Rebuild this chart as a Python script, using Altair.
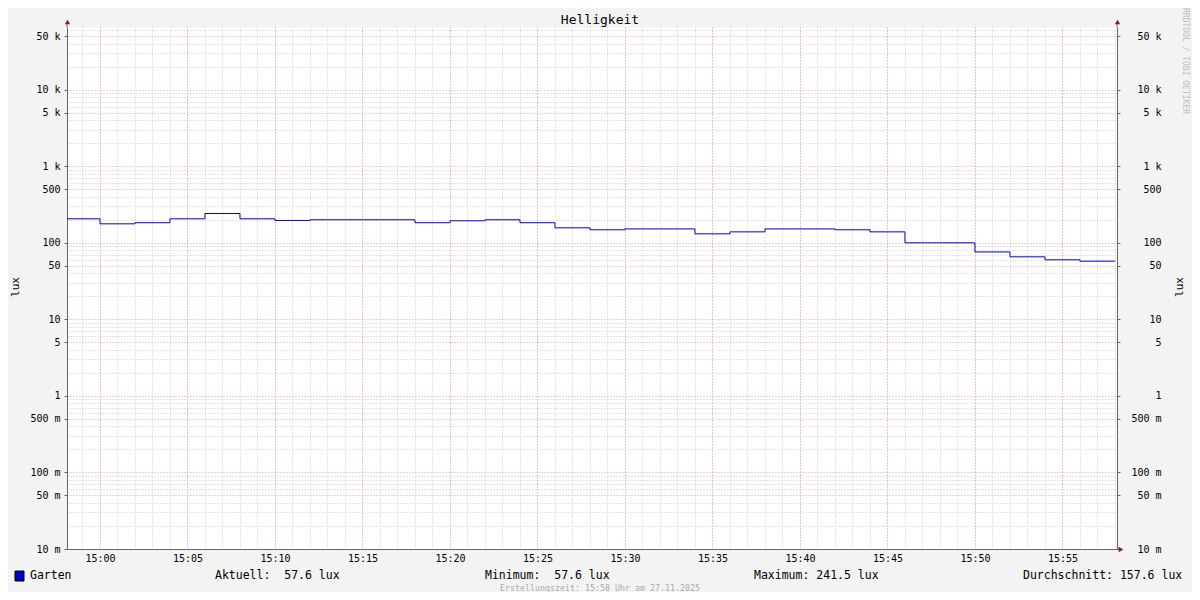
import altair as alt
import pandas as pd

NB = "\u00a0"
FONT = "DejaVu Sans Mono"

# ---------------- data ----------------
step_minutes = [-2, 0, 2, 4, 6, 8, 10, 12, 14, 16, 18, 20, 22, 24, 26, 28,
                30, 32, 34, 36, 38, 40, 42, 44, 46, 48, 50, 52, 54, 56, 58]
lux_values = [206, 177, 183, 206, 241.5, 206, 196, 200,
              200, 200, 183, 194, 200, 183, 157, 148,
              152, 152, 131, 139, 152, 152, 148, 139,
              100, 100, 76, 65.6, 60, 57.6, 57.6]

y_major_ticks = [0.01, 0.05, 0.1, 0.5, 1, 5, 10, 50, 100, 500, 1000, 5000, 10000, 50000]
decades = [0.01, 0.1, 1, 10, 100, 1000, 10000]
minor_factors = [2, 3, 4, 6, 7, 8, 9]
y_minor_ticks = [d * f for d in decades for f in minor_factors if d * f < 66000]
x_major_minutes = [0, 5, 10, 15, 20, 25, 30, 35, 40, 45, 50, 55]
x_minor_minutes = list(range(-1, 59))

series_name = "Garten"
unit = "lux"
stat_names = ["Aktuell:" + NB, "Minimum:" + NB, "Maximum:", "Durchschnitt:"]
stat_values = [57.6, 57.6, 241.5, 157.6]
title_text = "Helligkeit"
footer_text = "Erstellungszeit: 15:58 Uhr am 27.11.2025"
watermark_text = "RRDTOOL / TOBI OETIKER"


def dt(minute_from_15, seconds=0):
    m = 15 * 60 + minute_from_15
    return alt.DateTime(year=2025, month=11, date=27, hours=m // 60, minutes=m % 60,
                        seconds=seconds)


def ts(minute_from_15):
    m = 15 * 60 + minute_from_15
    return f"2025-11-27T{m // 60:02d}:{m % 60:02d}:00"


df = pd.DataFrame({"t": [ts(m) for m in step_minutes], "v": lux_values})

# ---------------- scales ----------------
xs = alt.Scale(domain=[dt(-2, 7), dt(58, 7)], nice=False)
ys = alt.Scale(type="log", domain=[0.01, 66000], nice=False)

MINOR = "#c8c8c8"
MAJOR = "#eb9c9c"
DASH = [1, 2]
AXIS_C = "#666666"
ARROW_C = "#8b1a1a"

label_expr = ("datum.value < 0.999 ? format(datum.value*1000, '.0f') + ' m' : "
              "(datum.value >= 999 ? format(datum.value/1000, '.0f') + ' k' : "
              "format(datum.value, '.0f') + '" + NB + NB + "')")

base = alt.Chart(df)

minor = base.mark_line(opacity=0).encode(
    x=alt.X("t:T", scale=xs, axis=alt.Axis(
        orient="bottom", grid=True, gridColor=MINOR, gridDash=DASH, gridWidth=1,
        values=[dt(m) for m in x_minor_minutes], labels=False, ticks=False,
        domain=False, title=None)),
    y=alt.Y("v:Q", scale=ys, axis=alt.Axis(
        orient="left", values=y_minor_ticks, grid=True, gridColor=MINOR, gridDash=DASH,
        gridWidth=1, labels=False, ticks=False, domain=False, title=None)),
)

major = base.mark_line(opacity=0).encode(
    x=alt.X("t:T", scale=xs, axis=alt.Axis(
        orient="bottom", grid=True, gridColor=MAJOR, gridDash=DASH, gridWidth=1,
        values=[dt(m) for m in x_major_minutes], format="%H:%M", ticks=False,
        labelPadding=4, labelFont=FONT, labelFontSize=10, labelColor="#000000",
        domain=True, domainColor=AXIS_C, domainWidth=1, title=None)),
    y=alt.Y("v:Q", scale=ys, axis=alt.Axis(
        orient="left", values=y_major_ticks, grid=True, gridColor=MAJOR, gridDash=DASH,
        gridWidth=1, labelExpr=label_expr, ticks=True, tickSize=3, tickColor=AXIS_C,
        labelPadding=4, labelFont=FONT, labelFontSize=10, labelColor="#000000",
        domain=True, domainColor=AXIS_C, domainWidth=1, title=None)),
)

right = base.mark_line(opacity=0).encode(
    x=alt.X("t:T", scale=xs, axis=None),
    y=alt.Y("v:Q", scale=ys, axis=alt.Axis(
        orient="right", values=y_major_ticks, grid=False, labelExpr=label_expr,
        ticks=True, tickSize=3, tickColor=AXIS_C, labelAlign="right", labelPadding=41,
        labelFont=FONT, labelFontSize=10, labelColor="#000000",
        domain=True, domainColor=AXIS_C, domainWidth=1, title=None)),
)

line = base.mark_line(interpolate="step-after", color="#0000cc", strokeWidth=1, clip=True).encode(
    x=alt.X("t:T", scale=xs, axis=None),
    y=alt.Y("v:Q", scale=ys, axis=None),
)

one = pd.DataFrame({"k": [0]})


def txt(text, x, y, size=11.5, color="#000000", align="left", angle=0):
    return alt.Chart(one).mark_text(
        text=text, font=FONT, fontSize=size, color=color, align=align,
        baseline="middle", angle=angle).encode(x=alt.value(x), y=alt.value(y))


def arrow(shape, x, y):
    return alt.Chart(one).mark_point(shape=shape, filled=True, size=28, color=ARROW_C,
                                     opacity=1).encode(x=alt.value(x), y=alt.value(y))


def rule(x, x2, y, y2):
    return alt.Chart(one).mark_rule(color=AXIS_C, strokeWidth=1).encode(
        x=alt.value(x), x2=alt.value(x2), y=alt.value(y), y2=alt.value(y2))


layers = [minor, major, right, line,
          rule(0, 0, -5, 0), rule(1050, 1050, -5, 0), rule(1050, 1054, 522, 522),
          arrow("triangle-up", 0.5, -5), arrow("triangle-up", 1050.5, -5),
          arrow("triangle-right", 1054, 522.5),
          txt(title_text, 533, -7, size=13, align="center"),
          txt(unit, -51, 260, size=11, align="center", angle=270),
          txt(unit, 1113, 260, size=11, align="center", angle=270),
          txt(watermark_text, 1118, 34, size=8, color="#bbbbbb", align="center", angle=90),
          alt.Chart(one).mark_rect(color="#0000cc", stroke="#000000", strokeWidth=1).encode(
              x=alt.value(-52), x2=alt.value(-43), y=alt.value(544), y2=alt.value(554)),
          txt(series_name, -37, 549),
          txt(f"{stat_names[0]} {stat_values[0]:.1f} {unit}", 148, 549),
          txt(f"{stat_names[1]} {stat_values[1]:.1f} {unit}", 418, 549),
          txt(f"{stat_names[2]} {stat_values[2]:.1f} {unit}", 687, 549),
          txt(f"{stat_names[3]} {stat_values[3]:.1f} {unit}", 956, 549),
          txt(footer_text, 533, 562, size=8.3, color="#aaaaaa", align="center"),
          ]

chart = alt.layer(*layers).resolve_axis(x="independent", y="independent").properties(
    width=1050, height=522,
    padding={"left": 59, "top": 19, "right": 75, "bottom": 43},
    autosize=alt.AutoSizeParams(type="none"),
    background="#f3f3f3",
).configure_view(fill="#ffffff", stroke="transparent")

chart.save("out.html", embed_options={"renderer": "svg", "actions": False})
